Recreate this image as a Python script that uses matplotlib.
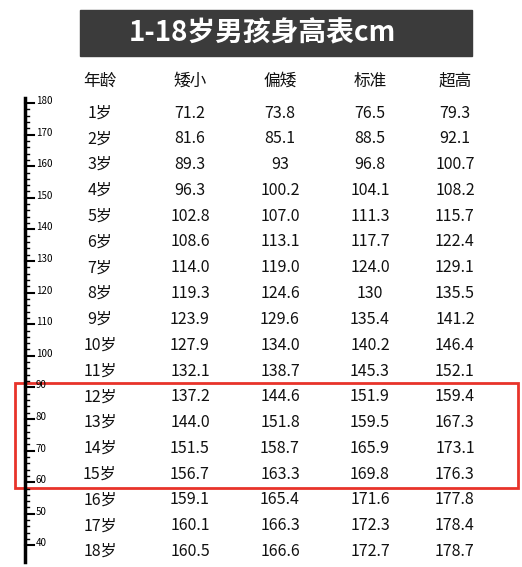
import matplotlib.pyplot as plt
from matplotlib.patches import Rectangle

plt.rcParams['font.family'] = ['Noto Sans CJK SC', 'DejaVu Sans']

title = "1-18岁男孩身高表cm"
headers = ["年龄", "矮小", "偏矮", "标准", "超高"]
ages = ["%d岁" % i for i in range(1, 19)]
short = ["71.2", "81.6", "89.3", "96.3", "102.8", "108.6", "114.0", "119.3", "123.9",
         "127.9", "132.1", "137.2", "144.0", "151.5", "156.7", "159.1", "160.1", "160.5"]
lowish = ["73.8", "85.1", "93", "100.2", "107.0", "113.1", "119.0", "124.6", "129.6",
          "134.0", "138.7", "144.6", "151.8", "158.7", "163.3", "165.4", "166.3", "166.6"]
normal = ["76.5", "88.5", "96.8", "104.1", "111.3", "117.7", "124.0", "130", "135.4",
          "140.2", "145.3", "151.9", "159.5", "165.9", "169.8", "171.6", "172.3", "172.7"]
tall = ["79.3", "92.1", "100.7", "108.2", "115.7", "122.4", "129.1", "135.5", "141.2",
        "146.4", "152.1", "159.4", "167.3", "173.1", "176.3", "177.8", "178.4", "178.7"]
ruler = [180, 170, 160, 150, 140, 130, 120, 110, 100, 90, 80, 70, 60, 50, 40]
highlight = ("12岁", "15岁")

fig = plt.figure(figsize=(5.22, 5.67), dpi=100)
ax = fig.add_axes([0, 0, 1, 1])
ax.set_xlim(0, 522)
ax.set_ylim(567, 0)
ax.axis('off')

# title banner
ax.add_patch(Rectangle((80, 10), 392, 46, color='#3b3b3b'))
ax.text(262, 33, title, color='white', fontsize=20, fontweight='bold',
        ha='center', va='center')

col_x = [100, 190, 280, 370, 455]
for x, h in zip(col_x, headers):
    ax.text(x, 81, h, fontsize=12, ha='center', va='center', color='#111111')

row_y0, row_dy = 113, 25.8
columns = [ages, short, lowish, normal, tall]
for i in range(len(ages)):
    y = row_y0 + i * row_dy
    for x, col in zip(col_x, columns):
        ax.text(x, y, col[i], fontsize=11.5, ha='center', va='center', color='#111111')

# ruler on the left
r_y0, r_dy = 103, 31.6
ax.plot([25, 25], [98, 562], color='black', lw=2.5)
for i, v in enumerate(ruler):
    y = r_y0 + i * r_dy
    ax.plot([25, 34], [y, y], color='black', lw=1.5)
    ax.text(36, y - 2, str(v), fontsize=7, style='italic', ha='left', va='center')
    if i < len(ruler) - 1:
        for k in range(1, 5):
            yy = y + k * r_dy / 5
            ax.plot([25, 29], [yy, yy], color='black', lw=1)

# red box around highlighted rows
i0, i1 = ages.index(highlight[0]), ages.index(highlight[1])
top = row_y0 + i0 * row_dy - 14
bot = row_y0 + i1 * row_dy + 14
ax.add_patch(Rectangle((15, top), 503, bot - top, fill=False, ec='#e8332a', lw=2))

fig.savefig("out.png", dpi=100)
